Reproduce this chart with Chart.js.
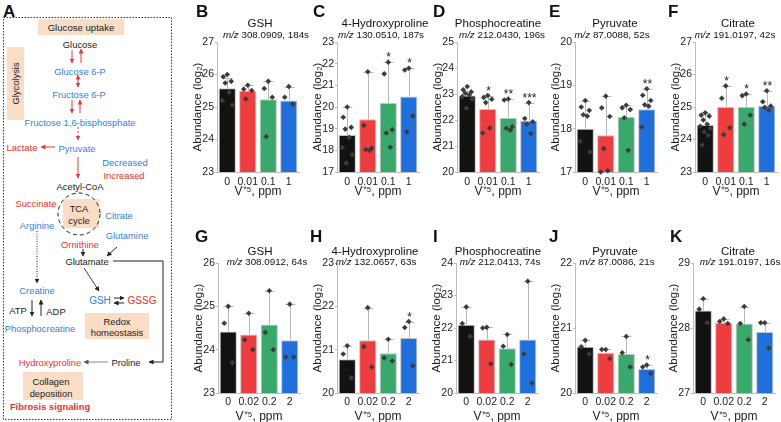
<!DOCTYPE html>
<html>
<head>
<meta charset="utf-8">
<script src="https://cdn.jsdelivr.net/npm/chart.js@4.4.1/dist/chart.umd.min.js"></script>
<style>
  body { margin: 0; width: 781px; height: 422px; overflow: hidden; background: #fff; position: relative;
         font-family: "Liberation Sans", Arial, sans-serif; color: #111; }
  canvas { position: absolute; }
  .name { position: absolute; width: 130px; text-align: center; font-size: 11.5px; line-height: 14px; white-space: nowrap; }
  .mz { position: absolute; width: 130px; text-align: center; font-size: 9.8px; line-height: 12px; white-space: nowrap; }
  .letter { position: absolute; font-size: 17px; line-height: 17px; font-weight: bold; }
</style>
</head>
<body>

<svg width="175" height="422" style="position:absolute;left:0;top:0" font-family="Liberation Sans, Arial, sans-serif" font-size="9.4" text-anchor="middle" dominant-baseline="central">
  <defs>
    <marker id="ar" viewBox="0 0 10 10" refX="9" refY="5" markerUnits="userSpaceOnUse" markerWidth="5" markerHeight="5" orient="auto-start-reverse"><path d="M0,0 L10,5 L0,10 z" fill="#ea3a34"/></marker>
    <marker id="ak" viewBox="0 0 10 10" refX="9" refY="5" markerUnits="userSpaceOnUse" markerWidth="5" markerHeight="5" orient="auto-start-reverse"><path d="M0,0 L10,5 L0,10 z" fill="#222"/></marker>
    <marker id="ag" viewBox="0 0 10 10" refX="9" refY="5" markerUnits="userSpaceOnUse" markerWidth="5" markerHeight="5" orient="auto"><path d="M0,0 L10,5 L0,10 z" fill="#555"/></marker>
  </defs>
  <rect x="3.5" y="17.5" width="168" height="402" fill="none" stroke="#333" stroke-dasharray="1.5,1.5"/>

  <rect x="38" y="19" width="86" height="16" fill="#fbdcc5"/>
  <text x="81" y="27" font-size="9.6" fill="#222">Glucose uptake</text>
  <rect x="7" y="47" width="17" height="73" fill="#fbdcc5"/>
  <text x="15.5" y="83.5" fill="#222" transform="rotate(-90 15.5 83.5)">Glycolysis</text>

  <text x="80" y="44" fill="#222">Glucose</text>
  <line x1="72" y1="50" x2="72" y2="63" stroke="#ea3a34" marker-end="url(#ar)"/>
  <line x1="81" y1="63" x2="81" y2="49" stroke="#ea3a34" marker-end="url(#ar)"/>
  <text x="80" y="71" fill="#2f7fe4">Glucose 6-P</text>
  <line x1="78" y1="75" x2="78" y2="87" stroke="#ea3a34" marker-start="url(#ar)" marker-end="url(#ar)"/>
  <text x="79" y="94" fill="#2f7fe4">Fructose 6-P</text>
  <line x1="72" y1="100" x2="72" y2="113" stroke="#ea3a34" marker-end="url(#ar)"/>
  <line x1="80" y1="113" x2="80" y2="100" stroke="#ea3a34" marker-end="url(#ar)"/>
  <text x="80" y="122" fill="#2f7fe4">Fructose 1,6-bisphosphate</text>
  <line x1="78" y1="127" x2="78" y2="140" stroke="#ea3a34" stroke-dasharray="2,2" marker-end="url(#ar)"/>
  <text x="77" y="148" fill="#2f7fe4">Pyruvate</text>
  <text x="22" y="147" fill="#f0302a">Lactate</text>
  <line x1="55" y1="147" x2="41" y2="147" stroke="#ea3a34" marker-end="url(#ar)"/>
  <text x="125" y="162" fill="#2f7fe4">Decreased</text>
  <text x="124" y="175" fill="#f0302a">Increased</text>
  <line x1="78" y1="157" x2="78" y2="178" stroke="#ea3a34" marker-end="url(#ar)"/>
  <text x="80" y="186" fill="#222">Acetyl-CoA</text>

  <rect x="63" y="199" width="36" height="29" fill="#fbdcc5"/>
  <circle cx="79" cy="214" r="21" fill="none" stroke="#222" stroke-dasharray="4,3"/>
  <text x="79" y="208" fill="#222">TCA</text>
  <text x="79" y="220" fill="#222">cycle</text>
  <text x="36" y="203" fill="#f0302a">Succinate</text>
  <text x="119" y="215" fill="#2f7fe4">Citrate</text>
  <text x="37" y="225" fill="#2f7fe4">Arginine</text>
  <text x="127" y="235" fill="#2f7fe4">Glutamine</text>
  <text x="80" y="244" fill="#f0302a">Ornithine</text>
  <line x1="83" y1="249" x2="83" y2="256" stroke="#222" marker-end="url(#ak)"/>
  <line x1="117" y1="247" x2="107" y2="256" stroke="#222" marker-end="url(#ak)"/>
  <text x="87" y="261" fill="#222">Glutamate</text>
  <line x1="37" y1="231" x2="37" y2="283" stroke="#222" stroke-dasharray="1,1.5" marker-end="url(#ak)"/>
  <text x="37" y="290" fill="#2f7fe4">Creatine</text>
  <text x="18" y="310" fill="#222">ATP</text>
  <line x1="32" y1="300" x2="32" y2="316" stroke="#222" marker-end="url(#ak)"/>
  <line x1="41" y1="316" x2="41" y2="300" stroke="#222" marker-end="url(#ak)"/>
  <text x="56" y="311" fill="#222">ADP</text>
  <text x="40" y="328" fill="#2f7fe4">Phosphocreatine</text>
  <line x1="84" y1="268" x2="99" y2="291" stroke="#444" marker-end="url(#ak)"/>
  <text x="100" y="300" font-size="10" fill="#2f7fe4">GSH</text>
  <line x1="114" y1="298" x2="124" y2="298" stroke="#222" marker-end="url(#ak)"/>
  <line x1="124" y1="303" x2="114" y2="303" stroke="#222" marker-end="url(#ak)"/>
  <text x="142" y="300" font-size="10" fill="#f0302a">GSSG</text>
  <rect x="85" y="313" width="64" height="26" fill="#fbdcc5"/>
  <text x="117" y="321" fill="#222">Redox</text>
  <text x="117" y="332" fill="#222">homeostasis</text>
  <polyline points="113,261 163,261 163,362 149,362" fill="none" stroke="#222" marker-end="url(#ak)"/>
  <text x="126" y="362" fill="#222">Proline</text>
  <line x1="108" y1="362" x2="84" y2="362" stroke="#888" marker-end="url(#ag)"/>
  <text x="50" y="362" fill="#f0302a">Hydroxyproline</text>
  <rect x="23" y="372" width="60" height="28" fill="#fbdcc5"/>
  <text x="51" y="381" fill="#222">Collagen</text>
  <text x="51" y="393" fill="#222">deposition</text>
  <text x="50" y="406" fill="#f0302a" font-weight="bold">Fibrosis signaling</text>
</svg>

<script>
// dose groups and colours
const topDoses = ['0', '0.01', '0.1', '1'];
const bottomDoses = ['0', '0.02', '0.2', '2'];
const barColors = ['#121212', '#ee3d3f', '#37aa6b', '#1f6fdd'];

const names = ['GSH', '4-Hydroxyproline', 'Phosphocreatine', 'Pyruvate', 'Citrate'];
const topMz = ['308.0909, 184s', '130.0510, 187s', '212.0430, 196s', '87.0088, 52s', '191.0197, 42s'];
const bottomMz = ['308.0912, 64s', '132.0657, 63s', '212.0413, 74s', '87.0086, 21s', '191.0197, 16s'];

// B - GSH
const bMean = [25.58, 25.5, 25.24, 25.2];
const bErr = [25.9, 25.67, 25.79, 25.63];
const bPts = [[26.0, 25.93, 25.79, 25.74, 25.45, 25.2, 25.06], [25.67, 25.55, 25.51, 25.25], [25.79, 25.57, 25.3, 24.09], [25.63, 25.3, 25.09]];
const bStars = ['', '', '', ''];
// C - 4-Hydroxyproline
const cMean = [18.71, 19.43, 20.18, 20.48];
const cErr = [20.0, 21.63, 22.07, 21.79];
const cPts = [[20.0, 19.53, 19.06, 18.98, 18.6, 18.13, 17.8, 17.41], [21.63, 19.15, 18.11, 18.04, 18.0], [22.07, 21.53, 18.95, 18.8, 18.14], [21.79, 21.71, 19.58, 18.86]];
const cStars = ['', '', '*', '*'];
// D - Phosphocreatine
const dMean = [22.94, 22.42, 22.09, 21.97];
const dErr = [23.13, 22.94, 22.81, 22.67];
const dPts = [[23.29, 23.16, 23.08, 23.03, 22.96, 22.9, 22.81, 22.45], [22.94, 22.87, 22.8, 22.67, 21.69, 21.5], [22.81, 22.77, 21.74, 21.68, 21.61], [22.67, 22.06, 21.93, 21.84, 21.48]];
const dStars = ['', '*', '**', '***'];
// E - Pyruvate
const eMean = [18.0, 17.85, 18.27, 18.45];
const eErr = [18.65, 18.75, 18.54, 18.92];
const ePts = [[18.65, 18.5, 18.42, 18.32, 18.29, 17.71, 17.46], [18.75, 18.48, 18.28, 17.54, 17.03, 17.0], [18.54, 18.48, 18.44, 18.25, 17.5], [18.92, 18.77, 18.65, 18.55, 18.52, 18.04]];
const eStars = ['', '', '', '**'];
// F - Citrate
const fMean = [24.45, 25.0, 25.0, 25.03];
const fErr = [24.8, 25.65, 25.4, 25.5];
const fPts = [[24.82, 24.75, 24.72, 24.6, 24.47, 24.41, 24.34, 24.24, 24.13, 23.83], [25.65, 25.27, 24.36, 24.15], [25.4, 25.35, 24.75, 24.47], [25.5, 25.16, 25.03, 24.99, 24.9]];
const fStars = ['', '*', '*', '**'];
// G - GSH
const gMean = [24.42, 24.35, 24.58, 24.22];
const gErr = [25.0, 24.84, 25.36, 25.05];
const gPts = [[25.0, 24.61, 23.7], [24.84, 24.23, 24.0], [25.36, 24.4, 24.0], [25.05, 23.83, 23.83]];
const gStars = ['', '', '', ''];
// H - 4-Hydroxyproline
const hMean = [20.78, 21.22, 20.92, 21.27];
const hErr = [21.09, 21.97, 21.24, 21.65];
const hPts = [[21.09, 20.9, 20.35], [21.97, 21.07, 20.6], [21.24, 20.81, 20.74], [21.65, 21.51, 20.63]];
const hStars = ['', '', '', '*'];
// I - Phosphocreatine
const iMean = [22.1, 21.65, 21.38, 21.65];
const iErr = [22.65, 22.02, 21.8, 23.44];
const iPts = [[22.65, 22.14, 21.75], [22.02, 22.0, 20.9], [21.8, 21.44, 20.88], [23.44, 21.2, 20.31]];
const iStars = ['', '', '', ''];
// J - Pyruvate
const jMean = [20.71, 20.62, 20.6, 20.37];
const jErr = [20.81, 20.67, 20.87, 20.43];
const jPts = [[20.81, 20.71, 20.6], [20.67, 20.67, 20.53], [20.87, 20.62, 20.4], [20.43, 20.4, 20.3]];
const jStars = ['', '', '', '*'];
// K - Citrate
const kMean = [28.27, 28.08, 28.07, 27.94];
const kErr = [28.45, 28.14, 28.33, 28.08];
const kPts = [[28.45, 28.29, 28.08], [28.14, 28.1, 28.07], [28.33, 28.07, 27.82], [28.08, 28.08, 27.69]];
const kStars = ['', '', '', ''];

Chart.defaults.font.family = '"Liberation Sans", Arial, sans-serif';
Chart.defaults.color = '#222';

// small fixed horizontal spread for the dots inside a bar
const jitter = [0, -4, 4, -2, 2, -5, 5, -1, 3, -3, 1];

const extras = {
  id: 'extras',
  afterDatasetsUpdate(chart) {
    const seen = {};
    const data = chart.data.datasets[1].data;
    chart.getDatasetMeta(1).data.forEach((el, i) => {
      const n = seen[data[i].x] = (seen[data[i].x] || 0) + 1;
      el.x += jitter[(n - 1) % jitter.length];
    });
  },
  afterDatasetDraw(chart, args, opts) {
    if (args.index !== 0) return;
    const ctx = chart.ctx, ys = chart.scales.y;
    ctx.save();
    args.meta.data.forEach((bar, i) => {
      const x = Math.round(bar.x) + 0.5;
      const top = Math.round(ys.getPixelForValue(opts.err[i])) + 0.5;
      ctx.strokeStyle = '#b8b8b8';
      ctx.lineWidth = 1;
      ctx.beginPath();
      ctx.moveTo(x, bar.y);
      ctx.lineTo(x, top);
      ctx.moveTo(x - 5, top);
      ctx.lineTo(x + 5, top);
      ctx.stroke();
      if (opts.stars[i]) {
        ctx.fillStyle = '#222';
        ctx.font = '12px "Liberation Sans", Arial';
        ctx.textAlign = 'center';
        ctx.textBaseline = 'alphabetic';
        ctx.fillText(opts.stars[i], x, top - 2);
      }
    });
    ctx.restore();
  }
};

function addText(cls, left, top, html) {
  const d = document.createElement('div');
  d.className = cls;
  d.style.left = left + 'px';
  d.style.top = top + 'px';
  d.innerHTML = html;
  document.body.appendChild(d);
}

function makePanel(p) {
  const row = p.row;
  const cv = document.createElement('canvas');
  const top = row ? 210 : 0, h = row ? 216 : 203;
  cv.width = 112; cv.height = h;
  cv.style.left = (p.axis - 26) + 'px';
  cv.style.top = top + 'px';
  document.body.appendChild(cv);

  const doses = row ? bottomDoses : topDoses;
  const pts = [];
  p.pts.forEach((list, i) => list.forEach(v => pts.push({ x: doses[i], y: v })));

  new Chart(cv, {
    type: 'bar',
    data: {
      labels: doses,
      datasets: [
        { data: p.mean, backgroundColor: barColors, borderColor: '#c4c4c4', borderWidth: 1,
          categoryPercentage: 1, barPercentage: 0.84, order: 1 },
        { type: 'line', data: pts, showLine: false, pointStyle: 'rectRot', pointRadius: 2.8,
          pointBackgroundColor: '#3c3c3c', pointBorderWidth: 0, clip: false, order: 0 }
      ]
    },
    options: {
      responsive: false,
      animation: false,
      layout: { padding: { top: row ? 53 : 42, left: 0, right: 0, bottom: 0 } },
      plugins: { legend: { display: false }, tooltip: { enabled: false }, extras: { err: p.err, stars: p.stars } },
      scales: {
        x: {
          grid: { display: false, drawTicks: false },
          border: { color: '#bdbdbd' },
          ticks: { font: { size: 10.5 }, padding: row ? 3 : 4, maxRotation: 0, minRotation: 0, autoSkip: false },
          title: { display: true, text: 'V⁺⁵, ppm', font: { size: 12 }, padding: { top: 0, bottom: row ? 2 : 4 } },
          afterFit: s => { s.height = row ? 33 : 31; s.paddingLeft = 0; s.paddingRight = 0; }
        },
        y: {
          min: p.min, max: p.max,
          ticks: { stepSize: 1, font: { size: 10.5 }, padding: 1 },
          grid: { drawOnChartArea: false, tickLength: 2, color: '#bdbdbd' },
          border: { color: '#bdbdbd' },
          title: { display: true, text: 'Abundance (log₂)', font: { size: 11.5 }, padding: 0 },
          afterFit: s => { s.width = 26; }
        }
      }
    },
    plugins: [extras]
  });

  const nameTop = row ? 244 : 16, mzTop = row ? 256 : 29;
  addText('name', p.nx - 65, nameTop, names[p.k]);
  addText('mz', p.mx - 65, mzTop, '<i>m/z</i> ' + (row ? bottomMz : topMz)[p.k]);
  addText('letter', p.lx, row ? 228 : 3, p.letter);
}

addText('letter', 3, 3, 'A');

[
  { letter: 'B', k: 0, row: 0, axis: 217, lx: 196, nx: 260, mx: 266, min: 23, max: 27, mean: bMean, err: bErr, pts: bPts, stars: bStars },
  { letter: 'C', k: 1, row: 0, axis: 337, lx: 313, nx: 385, mx: 381, min: 17, max: 23, mean: cMean, err: cErr, pts: cPts, stars: cStars },
  { letter: 'D', k: 2, row: 0, axis: 457, lx: 433, nx: 498, mx: 502, min: 20, max: 25, mean: dMean, err: dErr, pts: dPts, stars: dStars },
  { letter: 'E', k: 3, row: 0, axis: 575, lx: 549, nx: 615, mx: 612, min: 17, max: 20, mean: eMean, err: eErr, pts: ePts, stars: eStars },
  { letter: 'F', k: 4, row: 0, axis: 695, lx: 668, nx: 738, mx: 735, min: 23, max: 27, mean: fMean, err: fErr, pts: fPts, stars: fStars },
  { letter: 'G', k: 0, row: 1, axis: 218, lx: 195, nx: 260, mx: 267, min: 23, max: 26, mean: gMean, err: gErr, pts: gPts, stars: gStars },
  { letter: 'H', k: 1, row: 1, axis: 337, lx: 310, nx: 375, mx: 376, min: 20, max: 23, mean: hMean, err: hErr, pts: hPts, stars: hStars },
  { letter: 'I', k: 2, row: 1, axis: 456, lx: 433, nx: 498, mx: 500, min: 20, max: 24, mean: iMean, err: iErr, pts: iPts, stars: iStars },
  { letter: 'J', k: 3, row: 1, axis: 575, lx: 549, nx: 615, mx: 617, min: 20, max: 22, mean: jMean, err: jErr, pts: jPts, stars: jStars },
  { letter: 'K', k: 4, row: 1, axis: 693, lx: 670, nx: 738, mx: 740, min: 27, max: 29, mean: kMean, err: kErr, pts: kPts, stars: kStars }
].forEach(makePanel);
</script>
</body>
</html>
